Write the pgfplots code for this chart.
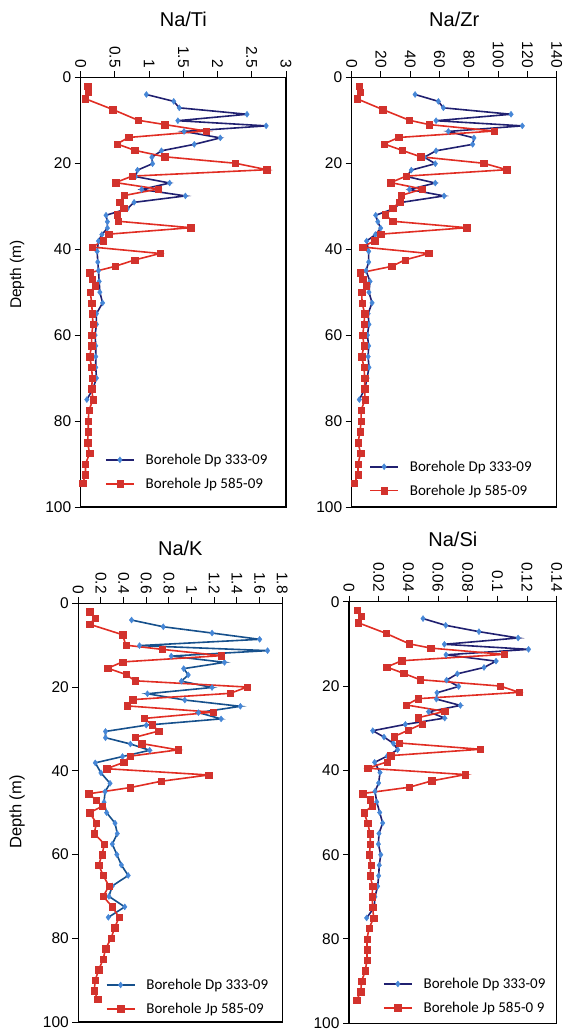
\documentclass[border=0pt]{standalone}
\usepackage{pgfplots}
\pgfplotsset{compat=1.18}
\usepackage{pgfplotstable}
\usepackage{fontspec}
\setmainfont{Liberation Sans}
\newfontfamily\calibri{Carlito}

\definecolor{navyline}{RGB}{32,32,112}
\definecolor{bluemark}{RGB}{70,135,215}
\definecolor{redline}{RGB}{225,45,35}
\definecolor{redmark}{RGB}{210,50,45}
\definecolor{kblue}{RGB}{22,80,140}

\pgfplotstableread{
d ti zr k si
4.0 0.96 43.3 0.47 0.0499
5.6 1.36 59.2 0.75 0.0652
7.1 1.44 62.6 1.18 0.0876
8.6 2.43 108.8 1.60 0.1140
10.1 1.42 57.6 0.54 0.0643
11.3 2.71 116.5 1.67 0.1210
12.6 1.51 66.0 0.82 0.0654
14.1 2.04 83.5 1.29 0.0991
15.6 1.66 82.6 0.93 0.0910
17.1 1.18 57.6 0.97 0.0730
18.6 1.04 49.6 0.91 0.0658
20.1 1.05 57.1 1.18 0.0739
21.6 0.83 40.7 0.61 0.0593
23.1 0.80 37.6 0.94 0.0589
24.6 1.30 57.1 1.43 0.0751
26.1 0.89 39.4 1.06 0.0537
27.6 1.53 63.1 1.26 0.0645
29.1 0.78 34.1 0.60 0.0380
30.6 0.68 28.5 0.24 0.0160
32.1 0.37 16.4 0.24 0.0236
33.6 0.39 17.8 0.46 0.0299
35.1 0.39 19.8 0.63 0.0328
36.6 0.31 16.2 0.39 0.0258
38.1 0.26 10.2 0.15 0.0173
40.5 0.24 11.6 0.20 0.0209
43.0 0.25 11.6 0.28 0.0200
45.0 0.26 9.8 0.236 0.0175
47.5 0.27 12.5 0.227 0.0187
50.0 0.28 11.8 0.25 0.0207
52.5 0.32 13.9 0.324 0.0227
55.0 0.23 11.2 0.344 0.0202
57.5 0.23 11.8 0.30 0.0198
60.0 0.21 10.7 0.34 0.0214
62.5 0.22 11.6 0.38 0.0204
65.0 0.22 11.2 0.44 0.0200
67.5 0.22 11.8 0.30 0.0193
70.0 0.23 10.5 0.27 0.0175
72.5 0.18 9.0 0.41 0.0170
75.0 0.09 5.2 0.265 0.0119
}\dptable

\pgfplotstableread{
d ti zr k si
2.0 0.10 5.2 0.10 0.0056
3.5 0.11 5.7 0.15 0.0081
5.0 0.07 3.6 0.10 0.0063
7.5 0.47 21.2 0.39 0.0249
10.0 0.84 39.4 0.42 0.0407
11.0 1.23 52.8 0.74 0.0551
12.5 1.83 97.4 1.26 0.1045
14.0 0.70 32.1 0.39 0.0355
15.5 0.53 22.1 0.26 0.0254
17.0 0.79 34.4 0.42 0.0369
18.5 1.23 47.1 0.50 0.0479
20.0 2.26 90.1 1.49 0.1018
21.5 2.72 105.8 1.34 0.1148
23.0 0.75 37.1 0.48 0.0465
24.5 0.51 26.6 0.43 0.0387
26.0 1.13 48.3 1.19 0.0645
27.5 0.64 33.7 0.58 0.0467
29.0 0.57 32.8 0.65 0.0492
30.5 0.63 28.0 0.71 0.0398
32.0 0.53 22.8 0.50 0.0303
33.5 0.55 28.0 0.56 0.0337
35.0 1.61 78.5 0.88 0.0885
36.5 0.41 19.8 0.46 0.0281
38.0 0.33 15.7 0.40 0.0256
39.5 0.17 7.5 0.25 0.0126
41.0 1.16 52.6 1.15 0.0784
42.5 0.79 36.4 0.73 0.0557
44.0 0.50 27.3 0.46 0.0407
45.5 0.13 5.7 0.09 0.0092
47.0 0.17 7.5 0.16 0.0142
48.5 0.21 9.8 0.21 0.0155
50.0 0.14 6.8 0.10 0.0101
52.5 0.16 7.1 0.16 0.0126
55.0 0.17 8.9 0.14 0.0142
57.5 0.18 8.4 0.23 0.0144
60.0 0.16 7.5 0.21 0.0137
62.5 0.16 8.4 0.18 0.0148
65.0 0.13 6.8 0.22 0.0142
67.5 0.16 8.4 0.27 0.0160
70.0 0.17 8.9 0.22 0.0155
72.5 0.16 8.9 0.30 0.0160
75.0 0.18 9.1 0.36 0.0166
77.5 0.12 6.4 0.32 0.0135
80.0 0.11 6.4 0.29 0.0121
82.5 0.11 5.7 0.24 0.0121
85.0 0.10 4.3 0.22 0.0121
87.5 0.13 6.1 0.18 0.0110
90.0 0.07 4.3 0.15 0.0085
92.5 0.07 4.3 0.14 0.0079
94.5 0.03 1.8 0.17 0.0052
}\jptable

\pgfplotsset{
  panel/.style={
    scale only axis,
    y dir=reverse,
    ymin=0, ymax=100,
    ytick={0,20,40,60,80,100},
    yticklabels={0,20,40,60,80,100},
    xmin=0,
    tick align=outside,
    xtick pos=right, ytick pos=left,
    xticklabel pos=right,
    major tick length=6bp,
    axis line style={line width=1.2bp},
    every tick/.style={black, line width=1bp},
    tick label style={font=\fontsize{15.5bp}{18bp}\selectfont},
    x tick label style={rotate=-90, anchor=east},
    scaled x ticks=false,
    legend style={draw=none, fill=none, font=\calibri\fontsize{15bp}{18bp}\selectfont,
      inner sep=0pt, row sep=8bp, anchor=west,
      /tikz/every odd column/.append style={column sep=9bp}},
    legend cell align=left,
    legend image code/.code={\draw[mark repeat=2, mark phase=2] plot coordinates {(0bp,0bp) (14bp,0bp) (28bp,0bp)};},
  },
  ttl/.style={every axis title/.style={at={(axis description cs:0.5,1)}, anchor=base, yshift=#1, font=\fontsize{20bp}{24bp}\selectfont}},
  dpstyle/.style={navyline, line width=1.6bp, mark=diamond*, mark size=3bp, mark options={fill=bluemark, draw=bluemark, line width=0.4bp}},
  jpstyle/.style={redline, line width=1.6bp, mark=square*, mark size=3.2bp, mark options={fill=redmark, draw=redmark, line width=0.4bp}},
}

\begin{document}
\begin{tikzpicture}
\path[use as bounding box] (0,0) rectangle (565bp,-1031bp);

% Na/Ti
\begin{axis}[panel, at={(80.7bp,-77.3bp)}, anchor=north west,
  width=205.3bp, height=429.7bp,
  xmax=3, xtick={0,0.5,1,1.5,2,2.5,3},
  xticklabels={0,0.5,1,1.5,2,2.5,3},
  title={Na/Ti}, ttl=51bp,
  legend style={at={(axis description cs:0.118,0.082)}}]
\addplot[dpstyle] table[x=ti, y=d] {\dptable};
\addplot[jpstyle] table[x=ti, y=d] {\jptable};
\legend{Borehole Dp 333-09, Borehole Jp 585-09}
\end{axis}

% Na/Zr
\begin{axis}[panel, at={(351.7bp,-77.3bp)}, anchor=north west,
  width=205bp, height=429.7bp,
  xmax=140, xtick={0,20,40,60,80,100,120,140},
  xticklabels={0,20,40,60,80,100,120,140},
  title={Na/Zr}, ttl=51bp,
  legend style={at={(axis description cs:0.085,0.066)}}]
\addplot[dpstyle] table[x=zr, y=d] {\dptable};
\addplot[jpstyle] table[x=zr, y=d] {\jptable};
\legend{Borehole Dp 333-09, Borehole Jp 585-09}
\end{axis}

% Na/K
\begin{axis}[panel, at={(78.3bp,-603.3bp)}, anchor=north west,
  width=204bp, height=418.7bp,
  xmax=1.8, xtick={0,0.2,0.4,0.6,0.8,1,1.2,1.4,1.6,1.8},
  xticklabels={0,0.2,0.4,0.6,0.8,1,1.2,1.4,1.6,1.8},
  title={Na/K}, ttl=48bp,
  legend style={at={(axis description cs:0.134,0.06)}}]
\addplot[dpstyle, kblue] table[x=k, y=d] {\dptable};
\addplot[jpstyle] table[x=k, y=d] {\jptable};
\legend{Borehole Dp 333-09, Borehole Jp 585-09}
\end{axis}

% Na/Si
\begin{axis}[panel, at={(349bp,-601.7bp)}, anchor=north west,
  width=207.7bp, height=421.6bp,
  xmax=0.14, xtick={0,0.02,0.04,0.06,0.08,0.1,0.12,0.14},
  xticklabels={0,0.02,0.04,0.06,0.08,0.1,0.12,0.14},
  title={Na/Si}, ttl=55bp,
  legend style={at={(axis description cs:0.163,0.065)}}]
\addplot[dpstyle] table[x=si, y=d] {\dptable};
\addplot[jpstyle] table[x=si, y=d] {\jptable};
\legend{Borehole Dp 333-09, Borehole Jp 585-0 9}
\end{axis}

% axis labels
\node[rotate=90, anchor=center, font=\fontsize{15.5bp}{18bp}\selectfont] at (17bp,-274.5bp) {Depth (m)};
\node[rotate=90, anchor=center, font=\fontsize{16.5bp}{20bp}\selectfont] at (17bp,-812bp) {Depth (m)};
\end{tikzpicture}
\end{document}
